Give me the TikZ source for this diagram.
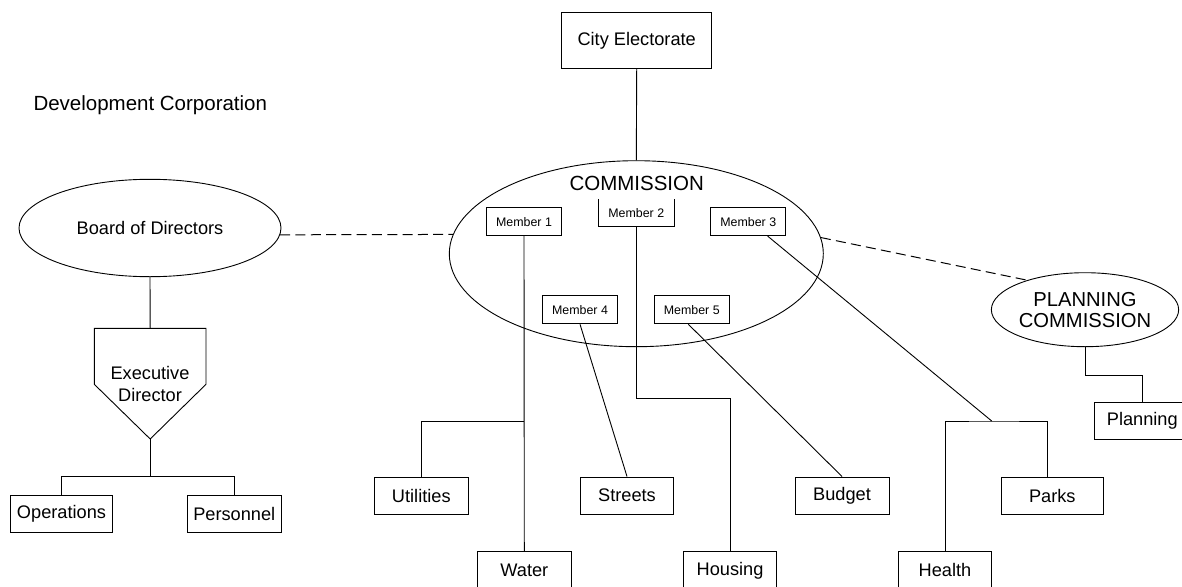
\documentclass[tikz,border=0pt]{standalone}
\usepackage{fontspec}
\setmainfont{Liberation Sans}
\usetikzlibrary{shapes.geometric}

\begin{document}
\begin{tikzpicture}[x=1pt, y=-1pt,
    box/.style={draw, line width=0.9pt, inner sep=0pt, font=\fontsize{18.2}{22}\selectfont,
      minimum height=37.3pt},
    member/.style={draw, line width=0.9pt, inner sep=0pt, font=\fontsize{12.4}{15}\selectfont,
      minimum width=75pt, minimum height=28pt},
    oval/.style={ellipse, draw, line width=0.9pt, inner sep=0pt, align=center},
    link/.style={line width=0.9pt},
    dashlink/.style={line width=1pt, dash pattern=on 10pt off 5.3pt}]
  \useasboundingbox (0,0) rectangle (1182,586);

  % Top
  \node[box, minimum width=150pt, minimum height=55.6pt] (city) at (636.7,40.5) {City Electorate};
  \node[anchor=west, inner sep=0pt, font=\fontsize{20.5}{24}\selectfont] (devcorp) at (33.3,105)
    {Development Corporation};

  % Corporation side
  \node[oval, minimum width=262pt, minimum height=97.4pt, font=\fontsize{18.2}{22}\selectfont]
    (board) at (150,228) {Board of Directors};
  \coordinate (exectop) at (150.2,328.3);
  \coordinate (exectip) at (150.2,439);
  \coordinate (edbar) at (150.2,476.7);
  \draw[link] (94.3,328.3) -- (206,328.3) -- (206,384.3) -- (exectip) -- (94.3,384.3) --
    cycle;
  \node[align=center, inner sep=0pt, font=\fontsize{18.2}{22}\selectfont] (exec) at (150,384)
    {Executive\\Director};
  \node[box, minimum width=102.4pt] (ops) at (61.5,514) {Operations};
  \node[box, minimum width=93.3pt] (pers) at (234.3,514) {Personnel};
  \draw[link] (board.south) -- (exectop);
  \draw[link] (exectip) -- (edbar);
  \draw[link] (ops.north) |- (edbar) -| (pers.north);

  % Commission
  \node[oval, minimum width=374pt, minimum height=186pt] (comm) at (636.3,253.7) {};
  \node[inner sep=0pt, font=\fontsize{20.5}{24}\selectfont] (commlabel) at (636.7,183.3)
    {COMMISSION};
  \node[member] (m1) at (524,221.7) {Member 1};
  \node[member, draw=none, minimum height=26.7pt] (m2) at (636.3,212.7) {Member 2};
  \draw[link] (m2.north west) |- (m2.south) -| (m2.north east);
  \node[member] (m3) at (748.3,221.7) {Member 3};
  \node[member] (m4) at (580,309.8) {Member 4};
  \node[member] (m5) at (691.8,309.8) {Member 5};

  % Departments
  \node[box, minimum width=94pt] (utilities) at (421.3,495.6) {Utilities};
  \node[box, minimum width=93.3pt] (water) at (524.3,570.3) {Water};
  \node[box, minimum width=93.4pt] (streets) at (627,495.6) {Streets};
  \node[box, minimum width=93.4pt] (housing) at (730,570.3) {Housing};
  \node[box, minimum width=94pt] (budget) at (842,495.6) {Budget};
  \node[box, minimum width=93.4pt] (health) at (945,570.3) {Health};
  \node[box, minimum width=102.7pt] (parks) at (1052.3,495.6) {Parks};
  \node[oval, minimum width=150pt, minimum height=74pt, font=\fontsize{20.2}{21}\selectfont]
    (plan) at (1085,309.7) {PLANNING\\COMMISSION};
  \node[box, minimum width=96pt] (planning) at (1142.3,420.8) {Planning};

  \coordinate (utilbar) at (524,421.3);
  \coordinate (housbar) at (636.3,398.3);
  \coordinate (hpbar) at (991.7,421);
  \coordinate (planbar) at (1085,375);

  \draw[link] (city.south) -- (comm.north);
  \draw[link] (m1.south) -- (water.north);
  \draw[link] (utilities.north) |- (utilbar);
  \draw[link] (m4.south) -- (streets.north);
  \draw[link] (m2.south) -- (housbar) -| (housing.north);
  \draw[link] ([xshift=-3.5pt]m5.south) -- (budget.north);
  \draw[link] ([xshift=19.4pt]m3.south) -- (hpbar);
  \draw[link] (health.north) |- (hpbar) -| ([xshift=-4.6pt]parks.north);
  \draw[link] (plan.south) -- (planbar) -| (planning.north);

  % Dashed links
  \draw[dashlink] (board.-3.5) -- (comm.174.5);
  \draw[dashlink] (comm.5.5) -- (plan.153);
\end{tikzpicture}
\end{document}
